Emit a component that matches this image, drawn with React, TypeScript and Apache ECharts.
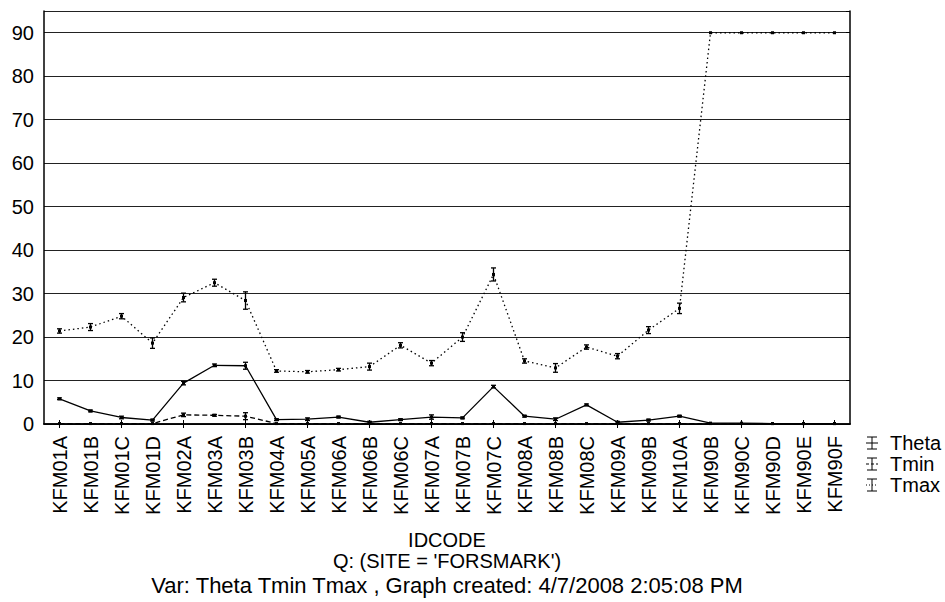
import React, { useEffect, useRef } from "react";
import * as echarts from "echarts";

const categories = [
  "KFM01A", "KFM01B", "KFM01C", "KFM01D", "KFM02A", "KFM03A", "KFM03B", "KFM04A",
  "KFM05A", "KFM06A", "KFM06B", "KFM06C", "KFM07A", "KFM07B", "KFM07C", "KFM08A",
  "KFM08B", "KFM08C", "KFM09A", "KFM09B", "KFM10A", "KFM90B", "KFM90C", "KFM90D",
  "KFM90E", "KFM90F",
];

const thetaValues = [5.8, 3.0, 1.5, 0.9, 9.4, 13.5, 13.4, 1.0, 1.1, 1.6, 0.4, 1.0, 1.6, 1.4, 8.6, 1.8, 1.1, 4.4, 0.4, 0.9, 1.8, 0.2, 0.2, 0.1, 0.1, 0.1];
const thetaErrors = [0.2, 0.2, 0.3, 0.2, 0.4, 0.3, 0.8, 0.2, 0.3, 0.2, 0.2, 0.2, 0.5, 0.2, 0.3, 0.2, 0.3, 0.2, 0.2, 0.2, 0.2, 0, 0, 0, 0, 0];

const tminValues = [0.1, 0.1, 0.1, 0.1, 2.1, 2.0, 1.8, 0.1, 0.1, 0.1, 0.1, 0.1, 0.1, 0.1, 0.1, 0.1, 0.1, 0.1, 0.1, 0.1, 0.1, 0.1, 0.1, 0.1, 0.1, 0.1];
const tminErrors = [0, 0, 0, 0, 0.4, 0.2, 0.8, 0, 0, 0, 0, 0, 0, 0, 0, 0, 0, 0, 0, 0, 0, 0, 0, 0, 0, 0];

const tmaxValues = [21.4, 22.3, 24.8, 18.6, 29.1, 32.5, 28.4, 12.2, 12.0, 12.5, 13.2, 18.1, 14.0, 20.0, 34.4, 14.5, 12.9, 17.7, 15.6, 21.6, 26.6, 90, 90, 90, 90, 90];
const tmaxErrors = [0.5, 0.8, 0.6, 1.2, 1.0, 0.8, 2.0, 0.3, 0.3, 0.3, 0.8, 0.6, 0.6, 1.0, 1.5, 0.5, 1.0, 0.5, 0.6, 0.8, 1.2, 0, 0, 0, 0, 0];

const yTicks = [0, 10, 20, 30, 40, 50, 60, 70, 80, 90];

const FONT = "'Liberation Sans', Arial, sans-serif";

function errorData(values: number[], errors: number[]) {
  return values.map((v, i) => [i, v - errors[i], v + errors[i], errors[i]]);
}

function errorSeries(values: number[], errors: number[]) {
  return {
    type: "custom",
    silent: true,
    z: 5,
    encode: { x: 0, y: [1, 2] },
    data: errorData(values, errors),
    renderItem: (params: any, api: any) => {
      const e = api.value(3);
      if (!e) return { type: "group", children: [] };
      const x = api.value(0);
      const lo = api.coord([x, api.value(1)]);
      const hi = api.coord([x, api.value(2)]);
      const w = 2.5;
      const st = { stroke: "#000", lineWidth: 1.3 };
      return {
        type: "group",
        children: [
          { type: "line", shape: { x1: lo[0], y1: lo[1], x2: hi[0], y2: hi[1] }, style: st },
          { type: "line", shape: { x1: lo[0] - w, y1: lo[1], x2: lo[0] + w, y2: lo[1] }, style: st },
          { type: "line", shape: { x1: hi[0] - w, y1: hi[1], x2: hi[0] + w, y2: hi[1] }, style: st },
        ],
      };
    },
  };
}

function legendItem(y: number, label: string, dash: any) {
  const cx = 872;
  const st = { stroke: "#000", lineWidth: 1 };
  return [
    { type: "line", shape: { x1: cx, y1: y - 6, x2: cx, y2: y + 6 }, style: st },
    { type: "line", shape: { x1: cx - 5, y1: y - 6, x2: cx + 5, y2: y - 6 }, style: st },
    { type: "line", shape: { x1: cx - 5, y1: y + 6, x2: cx + 5, y2: y + 6 }, style: st },
    { type: "line", shape: { x1: cx - 6, y1: y, x2: cx + 6, y2: y }, style: { stroke: "#000", lineWidth: 1, lineDash: dash } },
    {
      type: "text",
      x: 890,
      y: y,
      style: { text: label, font: `20px ${FONT}`, fill: "#000", textVerticalAlign: "middle", textAlign: "left" },
    },
  ];
}

export default function App() {
  const ref = useRef<HTMLDivElement>(null);
  useEffect(() => {
    if (!ref.current) return;
    const chart = echarts.init(ref.current, undefined, { renderer: "svg" });
    const lineSeries = (name: string, values: number[], dash: any) => ({
      name,
      type: "line",
      data: values,
      symbol: "rect",
      symbolSize: 3,
      z: 4,
      lineStyle: { color: "#000", width: 1.3, type: dash },
      itemStyle: { color: "#000" },
    });
    chart.setOption({
      animation: false,
      backgroundColor: "#fff",
      textStyle: { fontFamily: FONT },
      grid: { left: 44, right: 95, top: 11, bottom: 178, containLabel: false },
      xAxis: [
        {
          type: "category",
          data: categories,
          boundaryGap: true,
          position: "bottom",
          axisLine: { show: true, lineStyle: { color: "#000", width: 1.5 } },
          axisTick: { show: true, inside: true, alignWithLabel: true, interval: 1, length: 4, lineStyle: { color: "#000" } },
          axisLabel: { rotate: 90, interval: 0, margin: 12, fontSize: 20, color: "#000", fontFamily: FONT },
        },
        {
          type: "category",
          data: categories,
          boundaryGap: true,
          position: "top",
          axisLine: { show: true, lineStyle: { color: "#000", width: 1.5 } },
          axisTick: { show: true, inside: true, alignWithLabel: true, interval: 1, length: 4, lineStyle: { color: "#000" } },
          axisLabel: { show: false },
        },
      ],
      yAxis: [
        {
          type: "value",
          min: 0,
          max: 95,
          interval: 10,
          position: "left",
          axisLine: { show: true, lineStyle: { color: "#000", width: 1.5 } },
          axisTick: { show: false },
          splitLine: { show: true, lineStyle: { color: "#222", width: 1 } },
          axisLabel: {
            margin: 10,
            fontSize: 20,
            color: "#000",
            fontFamily: FONT,
            formatter: (v: number) => (yTicks.includes(v) ? String(v) : ""),
          },
        },
        {
          type: "value",
          min: 0,
          max: 95,
          interval: 10,
          position: "right",
          axisLine: { show: true, lineStyle: { color: "#000", width: 1.5 } },
          axisTick: { show: true, inside: true, length: 4, lineStyle: { color: "#000" } },
          splitLine: { show: false },
          axisLabel: { show: false },
        },
      ],
      series: [
        lineSeries("Theta", thetaValues, "solid"),
        lineSeries("Tmin", tminValues, [5, 3]),
        lineSeries("Tmax", tmaxValues, [1.5, 3]),
        errorSeries(thetaValues, thetaErrors),
        errorSeries(tminValues, tminErrors),
        errorSeries(tmaxValues, tmaxErrors),
      ],
      graphic: [
        ...legendItem(443, "Theta", null),
        ...legendItem(464, "Tmin", [3, 2]),
        ...legendItem(485, "Tmax", [1, 2]),
        {
          type: "text",
          x: 447,
          y: 540,
          style: { text: "IDCODE", font: `20px ${FONT}`, fill: "#000", textAlign: "center", textVerticalAlign: "middle" },
        },
        {
          type: "text",
          x: 447,
          y: 561,
          style: { text: "Q: (SITE = 'FORSMARK')", font: `20px ${FONT}`, fill: "#000", textAlign: "center", textVerticalAlign: "middle" },
        },
        {
          type: "text",
          x: 447,
          y: 585,
          style: {
            text: "Var: Theta Tmin Tmax , Graph created: 4/7/2008 2:05:08 PM",
            font: `22px ${FONT}`,
            fill: "#000",
            textAlign: "center",
            textVerticalAlign: "middle",
          },
        },
      ],
    });
    return () => chart.dispose();
  }, []);
  return <div ref={ref} style={{ width: 945, height: 602, position: "absolute", left: 0, top: 0 }} />;
}
